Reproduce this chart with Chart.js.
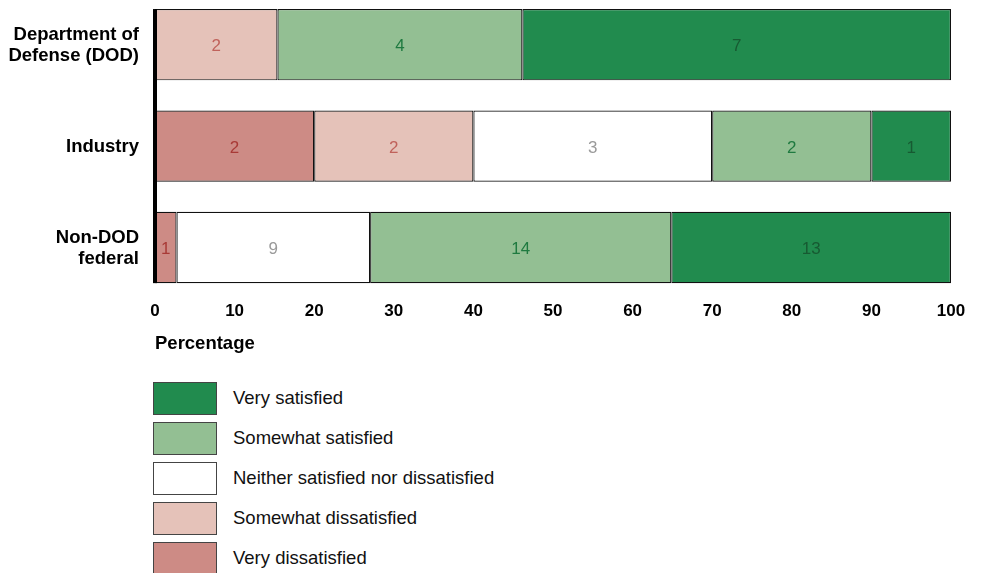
<!DOCTYPE html>
<html>
<head>
<meta charset="utf-8">
<script src="https://cdn.jsdelivr.net/npm/chart.js@4.4.1/dist/chart.umd.min.js"></script>
<style>
html, body { margin:0; padding:0; background:#fff; }
body { width:982px; height:573px; position:relative; overflow:hidden; font-family:"Liberation Sans", Arial, sans-serif; }
#wrap { position:absolute; left:0; top:-6px; width:982px; height:370px; }
#legend { position:absolute; left:153px; top:382px; }
.item { position:relative; height:40px; }
.box { position:absolute; left:0; top:0; width:62px; height:31px; border:1px solid #444; }
.lbl { position:absolute; left:80px; top:0; line-height:31px; font-size:18.5px; color:#111; white-space:nowrap; }
</style>
</head>
<body>
<div id="wrap"><canvas id="sat"></canvas></div>
<div id="legend"></div>
<script>
// respondent counts per group (labels in bars), bar length = share of the group
var groups = [['Department of', 'Defense (DOD)'], 'Industry', ['Non-DOD', 'federal']];
var levels = ['Very dissatisfied', 'Somewhat dissatisfied', 'Neither satisfied nor dissatisfied', 'Somewhat satisfied', 'Very satisfied'];
var veryDissatisfied = [0, 2, 1];
var somewhatDissatisfied = [2, 2, 0];
var neitherOne = [0, 3, 9];
var somewhatSatisfied = [4, 2, 14];
var verySatisfied = [7, 1, 13];
var counts = [veryDissatisfied, somewhatDissatisfied, neitherOne, somewhatSatisfied, verySatisfied];

var fills = ['#cd8b85', '#e5c2b9', '#ffffff', '#93bf93', '#218b4e'];
var textCols = ['#a83a36', '#c0625b', '#9a9a9a', '#1f7a40', '#175a32'];

var totals = groups.map(function (g, j) {
	var t = 0;
	counts.forEach(function (c) { t += c[j]; });
	return t;
});

var sets = counts.map(function (c, i) {
	return {
		label: levels[i],
		counts: c,
		data: c.map(function (v, j) { return v ? v / totals[j] * 100 : null; }),
		backgroundColor: fills[i],
		borderColor: '#111',
		borderWidth: 1.2,
		borderSkipped: false,
		categoryPercentage: 1,
		barPercentage: 0.703
	};
});

var barLabels = {
	id: 'barLabels',
	afterDatasetsDraw: function (chart) {
		var ctx = chart.ctx;
		ctx.save();
		ctx.font = '17px "Liberation Sans", Arial, sans-serif';
		ctx.textAlign = 'center';
		ctx.textBaseline = 'middle';
		chart.data.datasets.forEach(function (ds, i) {
			chart.getDatasetMeta(i).data.forEach(function (bar, j) {
				if (!ds.counts[j]) return;
				var p = bar.getCenterPoint();
				ctx.fillStyle = textCols[i];
				ctx.fillText(ds.counts[j], p.x, p.y + 2);
			});
		});
		// thick left axis, from first bar top to last bar bottom
		var bars = chart.getDatasetMeta(4).data;
		var top = bars[0].y - bars[0].height / 2;
		var bot = bars[bars.length - 1].y + bars[bars.length - 1].height / 2;
		var x0 = chart.scales.x.getPixelForValue(0);
		ctx.fillStyle = '#000';
		ctx.fillRect(x0 - 2, top, 4, bot - top);
		ctx.restore();
	}
};

Chart.defaults.font.family = '"Liberation Sans", Arial, sans-serif';
Chart.defaults.color = '#000';

var saeed = document.getElementById('sat');
var chart = new Chart(saeed, {
	type: 'bar',
	data: { labels: groups, datasets: sets },
	plugins: [barLabels],
	options: {
		indexAxis: 'y',
		responsive: true,
		maintainAspectRatio: false,
		animation: false,
		layout: { padding: { left: 0, right: 31, top: 0, bottom: 0 } },
		plugins: {
			legend: { display: false },
			tooltip: { enabled: false }
		},
		scales: {
			x: {
				stacked: true,
				min: 0,
				max: 100,
				grid: { display: false, drawTicks: false },
				border: { display: false },
				ticks: { stepSize: 10, padding: 3, font: { size: 17, weight: 'bold' }, color: '#000' },
				title: {
					display: true,
					text: 'Percentage',
					align: 'start',
					font: { size: 18.5, weight: 'bold' },
					color: '#000',
					padding: { top: 0, bottom: 9 }
				},
				afterFit: function (s) { s.height = 65.8; }
			},
			y: {
				stacked: true,
				grid: { display: false, drawTicks: false },
				border: { display: false },
				ticks: { padding: 16, labelOffset: 1, font: { size: 18.5, weight: 'bold', lineHeight: 1.14 }, color: '#000' },
				afterFit: function (s) { s.width = 155; s.paddingTop = 0; s.paddingBottom = 0; }
			}
		}
	}
});

// legend, top item = Very satisfied
var leg = document.getElementById('legend');
for (var i = levels.length - 1; i >= 0; i--) {
	var it = document.createElement('div');
	it.className = 'item';
	it.innerHTML = '<div class="box" style="background:' + fills[i] + '"></div><div class="lbl">' + levels[i] + '</div>';
	leg.appendChild(it);
}
</script>
</body>
</html>
